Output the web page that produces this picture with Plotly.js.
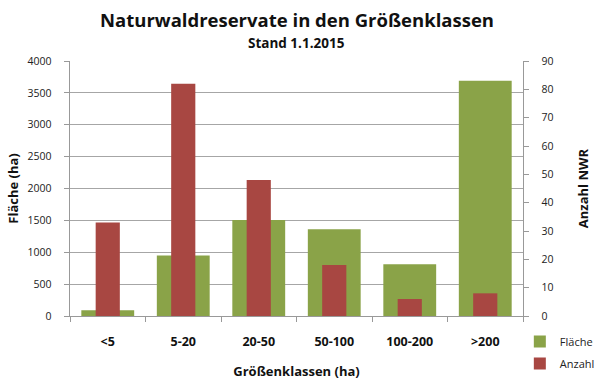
<!DOCTYPE html>
<html><head><meta charset="utf-8">
<script src="https://cdn.plot.ly/plotly-3.0.1.min.js"></script>
<style>body{margin:0;background:#fff}#c{width:600px;height:380px}</style>
</head><body><div id="c"></div>
<script>
const categories = ["<5", "5-20", "20-50", "50-100", "100-200", ">200"];
const flaeche = [90, 950, 1505, 1360, 810, 3690];
const anzahl = [33, 82, 48, 18, 6, 8];
const leftTicks = [0, 500, 1000, 1500, 2000, 2500, 3000, 3500, 4000];
const rightTicks = [0, 10, 20, 30, 40, 50, 60, 70, 80, 90];

const F = "Open Sans, Noto Sans, sans-serif";
const data = [
  {type: "bar", name: "Fläche", x: categories, y: flaeche, width: 0.7, legendgroup: "a",
   marker: {color: "#8AA348"}, yaxis: "y"},
  {type: "bar", name: "Anzahl", x: categories, y: anzahl, width: 0.32, legendgroup: "b",
   marker: {color: "#A84742"}, yaxis: "y2"}
];
const layout = {
  width: 600, height: 380,
  margin: {l: 70, r: 77, t: 61, b: 64, autoexpand: false},
  paper_bgcolor: "#fff", plot_bgcolor: "#fff",
  barmode: "overlay",
  font: {family: F, size: 11, color: "#222"},
  annotations: [
    {text: "<b>Naturwaldreservate in den Größenklassen</b>", xref: "paper", yref: "paper",
     x: 0.5, y: 1.0 + (61 - 20) / 255, xanchor: "center", yanchor: "middle", showarrow: false,
     font: {family: F, size: 18.5, color: "#111"}},
    {text: "<b>Stand 1.1.2015</b>", xref: "paper", yref: "paper",
     x: 0.5, y: 1.0 + (61 - 43) / 255, xanchor: "center", yanchor: "middle", showarrow: false,
     font: {family: F, size: 13.5, color: "#111"}}
  ],
  xaxis: {type: "category", showgrid: false, showline: true, linecolor: "#999", linewidth: 1.3,
          ticks: "outside", tickson: "boundaries", ticklen: 5, tickcolor: "#999",
          ticklabelstandoff: 14,
          tickfont: {family: F, size: 12.5, color: "#111", weight: "bold"},
          title: {text: "<b>Größenklassen (ha)</b>", font: {family: F, size: 13, color: "#111"}, standoff: 17}},
  yaxis: {range: [0, 4000], tickvals: leftTicks, showgrid: true, gridcolor: "#a6a6a6", gridwidth: 1,
          showline: true, linecolor: "#999", linewidth: 1.3, ticks: "outside", ticklen: 5, tickcolor: "#999",
          ticklabelstandoff: 10,
          zeroline: false, tickfont: {family: F, size: 10.5, color: "#222"},
          title: {text: "<b>Fläche (ha)</b>", font: {family: F, size: 13, color: "#111"}, standoff: 6}},
  yaxis2: {range: [0, 90], tickvals: rightTicks, overlaying: "y", side: "right", showgrid: false,
           showline: true, linecolor: "#999", linewidth: 1.3, ticks: "outside", ticklen: 5, tickcolor: "#999",
           ticklabelstandoff: 10,
           zeroline: false, tickfont: {family: F, size: 10.5, color: "#222"},
           title: {text: "<b>Anzahl NWR</b>", font: {family: F, size: 13, color: "#111"}, standoff: 26}},
  showlegend: true,
  legend: {x: 0.993, xanchor: "left", y: -0.043, yanchor: "top", tracegroupgap: 3,
           font: {family: F, size: 11, color: "#222"}, itemwidth: 30, traceorder: "grouped",
           bgcolor: "rgba(0,0,0,0)"}
};
Plotly.newPlot("c", data, layout, {displayModeBar: false, staticPlot: true});
</script></body></html>
